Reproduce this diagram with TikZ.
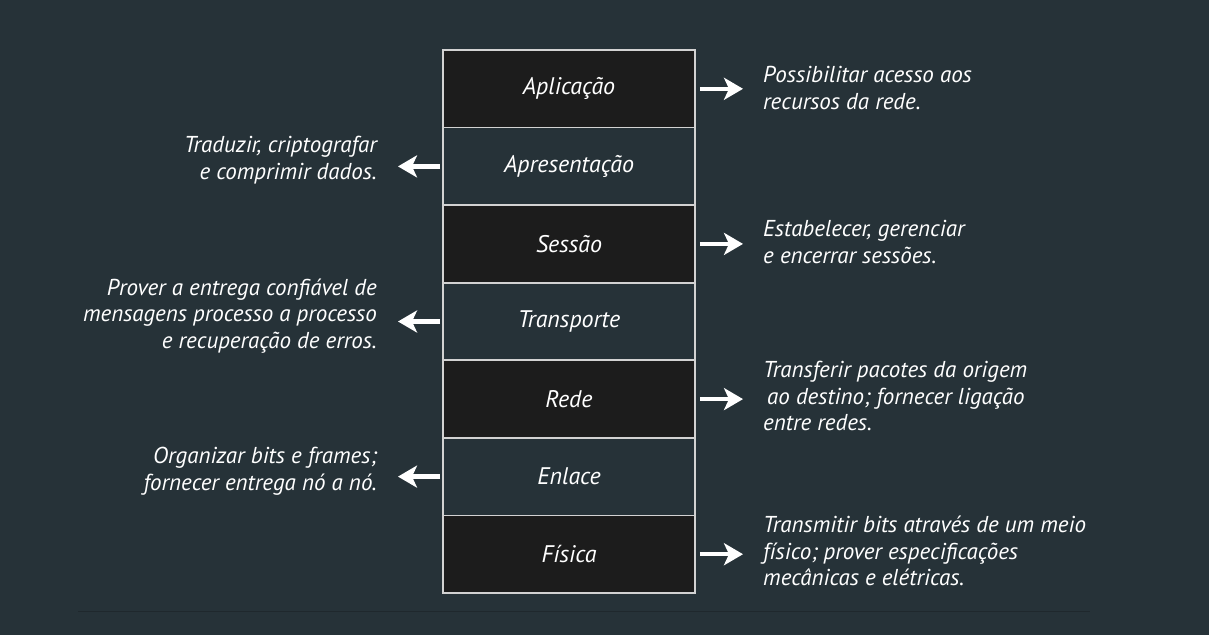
\documentclass[tikz,border=0pt]{standalone}
\usepackage{fontspec}
\setmainfont{PT Sans}
\usetikzlibrary{arrows.meta}
\definecolor{bg}{HTML}{263238}
\definecolor{darkbox}{HTML}{1C1C1C}
\definecolor{edgegray}{HTML}{D2D2D2}
\definecolor{rule}{HTML}{1F282D}

\begin{document}
\begin{tikzpicture}[x=1pt, y=-1pt,
    layer/.style={rectangle, draw=edgegray, line width=1.6pt, fill=bg,
        minimum width=252pt, minimum height=77.57pt, inner sep=0pt,
        text=white, font=\fontsize{24}{28}\selectfont\itshape},
    darklayer/.style={layer, fill=darkbox},
    rdesc/.style={anchor=west, align=left, inner sep=0pt, text=white,
        font=\fontsize{23}{26.5}\selectfont\itshape},
    ldesc/.style={rdesc, anchor=east, align=right},
    rarrow/.style={white, line width=4.5pt,
        -{Stealth[length=19pt, width=22pt, inset=5pt]},
        shorten <=4pt, shorten >=20pt},
    larrow/.style={rarrow, shorten <=2pt, shorten >=21pt}
]
    \useasboundingbox[fill=bg] (0,0) rectangle (1209,635);
    \draw[rule, line width=1pt] (78,611) -- (1090,611);

    \node[darklayer] (app) at (569,88.8) {Aplicação};
    \node[layer] (pres) at (569,166.4) {Apresentação};
    \node[darklayer] (sess) at (569,243.9) {Sessão};
    \node[layer] (transp) at (569,321.5) {Transporte};
    \node[darklayer] (net) at (569,399.1) {Rede};
    \node[layer] (link) at (569,476.6) {Enlace};
    \node[darklayer] (phys) at (569,554.2) {Física};

    \node[rdesc] (appdesc) at (763,88) {Possibilitar acesso aos\\recursos da rede.};
    \node[ldesc] (presdesc) at (377,160) {Traduzir, criptografar\\e comprimir dados.};
    \node[rdesc] (sessdesc) at (763,242) {Estabelecer, gerenciar\\e encerrar sessões.};
    \node[ldesc] (transpdesc) at (377,316) {Prover a entrega confiável de\\mensagens processo a processo\\e recuperação de erros.};
    \node[rdesc] (netdesc) at (763,396) {Transferir pacotes da origem\\\hspace*{4pt}ao destino; fornecer ligação\\entre redes.};
    \node[ldesc] (linkdesc) at (377,471) {Organizar bits e frames;\\fornecer entrega nó a nó.};
    \node[rdesc] (physdesc) at (763,551) {Transmitir bits através de um meio\\físico; prover especificações\\mecânicas e elétricas.};

    \draw[rarrow] (app.east) -- (appdesc.west |- app.east);
    \draw[larrow] (pres.west) -- (presdesc.east |- pres.west);
    \draw[rarrow] (sess.east) -- (sessdesc.west |- sess.east);
    \draw[larrow] (transp.west) -- (transpdesc.east |- transp.west);
    \draw[rarrow] (net.east) -- (netdesc.west |- net.east);
    \draw[larrow] (link.west) -- (linkdesc.east |- link.west);
    \draw[rarrow] (phys.east) -- (physdesc.west |- phys.east);
\end{tikzpicture}
\end{document}
